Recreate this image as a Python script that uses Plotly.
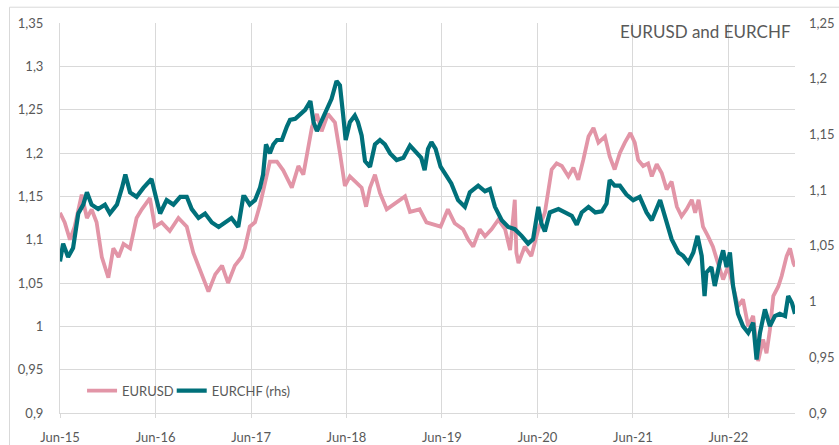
import plotly.graph_objects as go

# EUR/USD (left axis)
usd_dates = [
    "2015-06-01", "2015-06-19", "2015-07-09", "2015-07-27", "2015-08-23", "2015-09-12",
    "2015-09-30", "2015-10-19", "2015-11-08", "2015-12-03", "2015-12-22", "2016-01-11",
    "2016-01-30", "2016-02-24", "2016-03-20", "2016-04-09", "2016-05-10", "2016-05-29",
    "2016-06-24", "2016-07-25", "2016-08-27", "2016-09-28", "2016-10-23", "2016-11-18",
    "2016-12-20", "2017-01-15", "2017-02-10", "2017-03-05", "2017-03-31", "2017-04-26",
    "2017-05-08", "2017-05-27", "2017-06-16", "2017-07-05", "2017-07-24", "2017-08-12",
    "2017-09-08", "2017-10-02", "2017-11-04", "2017-11-29", "2017-12-18", "2018-01-20",
    "2018-02-08", "2018-02-26", "2018-03-22", "2018-04-18", "2018-05-07", "2018-05-26",
    "2018-06-14", "2018-07-09", "2018-07-29", "2018-08-15", "2018-08-30", "2018-09-18",
    "2018-10-07", "2018-11-02", "2018-11-27", "2018-12-22", "2019-01-11", "2019-01-30",
    "2019-03-08", "2019-04-03", "2019-04-22", "2019-05-27", "2019-06-24", "2019-07-20",
    "2019-08-21", "2019-09-10", "2019-09-29", "2019-10-24", "2019-11-13", "2019-12-08",
    "2020-01-03", "2020-01-29", "2020-02-17", "2020-03-06", "2020-03-12", "2020-03-20",
    "2020-04-13", "2020-05-08", "2020-06-04", "2020-06-29", "2020-07-25", "2020-08-13",
    "2020-09-02", "2020-09-27", "2020-10-16", "2020-11-04", "2020-11-23", "2020-12-13",
    "2021-01-01", "2021-01-20", "2021-02-14", "2021-03-04", "2021-03-23", "2021-04-12",
    "2021-05-01", "2021-05-22", "2021-06-08", "2021-06-21", "2021-07-10", "2021-07-29",
    "2021-08-12", "2021-08-31", "2021-09-19", "2021-10-08", "2021-10-27", "2021-11-16",
    "2021-12-04", "2021-12-23", "2022-01-12", "2022-01-25", "2022-02-07", "2022-02-24",
    "2022-03-15", "2022-04-03", "2022-04-22", "2022-05-12", "2022-05-31", "2022-06-19",
    "2022-07-08", "2022-07-27", "2022-08-16", "2022-09-04", "2022-09-23", "2022-10-12",
    "2022-10-25", "2022-11-07", "2022-11-20", "2022-12-09", "2022-12-22", "2023-01-10",
    "2023-01-23", "2023-02-05", "2023-02-11",
]
eurusd = [
    1.131, 1.120, 1.100, 1.115, 1.152, 1.125,
    1.135, 1.120, 1.080, 1.056, 1.090, 1.080,
    1.095, 1.090, 1.125, 1.135, 1.148, 1.115,
    1.120, 1.110, 1.125, 1.115, 1.085, 1.065,
    1.040, 1.060, 1.070, 1.050, 1.070, 1.080,
    1.090, 1.115, 1.120, 1.140, 1.165, 1.190,
    1.190, 1.180, 1.160, 1.185, 1.175, 1.230,
    1.245, 1.225, 1.245, 1.235, 1.200, 1.162,
    1.173, 1.165, 1.160, 1.138, 1.160, 1.175,
    1.154, 1.135, 1.140, 1.145, 1.150, 1.132,
    1.135, 1.120, 1.118, 1.115, 1.135, 1.119,
    1.112, 1.100, 1.092, 1.112, 1.104, 1.112,
    1.123, 1.112, 1.088, 1.146, 1.085, 1.073,
    1.092, 1.081, 1.112, 1.131, 1.181, 1.188,
    1.185, 1.173, 1.183, 1.169, 1.192, 1.219,
    1.229, 1.212, 1.219, 1.196, 1.181, 1.200,
    1.212, 1.223, 1.212, 1.192, 1.185, 1.188,
    1.173, 1.187, 1.177, 1.158, 1.167, 1.138,
    1.127, 1.135, 1.146, 1.131, 1.146, 1.115,
    1.104, 1.092, 1.073, 1.054, 1.069, 1.046,
    1.023, 1.031, 1.000, 1.012, 0.960, 0.985,
    0.969, 0.996, 1.035, 1.046, 1.058, 1.081,
    1.090, 1.073, 1.069,
]

# EUR/CHF (right axis)
chf_dates = [
    "2015-06-01", "2015-06-13", "2015-07-02", "2015-07-21", "2015-08-10", "2015-08-29",
    "2015-09-12", "2015-09-30", "2015-10-25", "2015-11-20", "2015-12-09", "2016-01-05",
    "2016-01-24", "2016-02-06", "2016-02-24", "2016-03-20", "2016-04-15", "2016-05-16",
    "2016-06-05", "2016-06-18", "2016-07-13", "2016-08-08", "2016-09-03", "2016-09-28",
    "2016-10-17", "2016-11-12", "2016-12-07", "2017-01-02", "2017-01-28", "2017-02-21",
    "2017-03-18", "2017-04-13", "2017-05-02", "2017-05-08", "2017-05-27", "2017-06-16",
    "2017-07-05", "2017-07-17", "2017-07-28", "2017-08-12", "2017-08-25", "2017-09-08",
    "2017-09-27", "2017-10-16", "2017-10-28", "2017-11-17", "2017-12-06", "2017-12-25",
    "2018-01-14", "2018-01-26", "2018-02-08", "2018-02-26", "2018-03-16", "2018-04-05",
    "2018-04-24", "2018-05-07", "2018-05-19", "2018-05-29", "2018-06-14", "2018-07-03",
    "2018-07-15", "2018-07-29", "2018-08-11", "2018-08-30", "2018-09-18", "2018-10-07",
    "2018-10-26", "2018-11-15", "2018-12-10", "2019-01-05", "2019-01-30", "2019-02-24",
    "2019-03-14", "2019-03-27", "2019-04-09", "2019-04-22", "2019-05-08", "2019-05-27",
    "2019-06-18", "2019-07-07", "2019-08-02", "2019-08-28", "2019-09-16", "2019-10-18",
    "2019-11-13", "2019-12-02", "2019-12-21", "2020-01-16", "2020-02-10", "2020-03-06",
    "2020-04-01", "2020-04-26", "2020-05-15", "2020-06-04", "2020-06-16", "2020-06-29",
    "2020-07-18", "2020-08-20", "2020-09-14", "2020-10-10", "2020-10-29", "2020-11-17",
    "2020-12-13", "2021-01-08", "2021-02-02", "2021-02-20", "2021-03-04", "2021-03-23",
    "2021-04-12", "2021-05-07", "2021-06-02", "2021-06-27", "2021-07-23", "2021-08-12",
    "2021-09-13", "2021-10-01", "2021-10-27", "2021-11-22", "2021-12-10", "2021-12-30",
    "2022-01-18", "2022-02-03", "2022-02-19", "2022-03-02", "2022-03-09", "2022-03-28",
    "2022-04-10", "2022-04-29", "2022-05-12", "2022-05-25", "2022-06-07", "2022-06-19",
    "2022-07-08", "2022-07-27", "2022-08-16", "2022-09-04", "2022-09-17", "2022-09-30",
    "2022-10-19", "2022-11-07", "2022-11-26", "2022-12-15", "2023-01-04", "2023-01-16",
    "2023-01-30", "2023-02-11",
]
eurchf = [
    1.036, 1.052, 1.040, 1.048, 1.079, 1.087,
    1.098, 1.087, 1.083, 1.087, 1.079, 1.087,
    1.102, 1.114, 1.098, 1.094, 1.102, 1.110,
    1.091, 1.079, 1.091, 1.087, 1.094, 1.094,
    1.083, 1.075, 1.079, 1.071, 1.067, 1.071,
    1.075, 1.067, 1.094, 1.094, 1.087, 1.091,
    1.102, 1.114, 1.141, 1.133, 1.141, 1.145,
    1.145, 1.157, 1.163, 1.164, 1.168, 1.172,
    1.180, 1.161, 1.153, 1.163, 1.172, 1.182,
    1.198, 1.194, 1.168, 1.145, 1.161, 1.167,
    1.161, 1.149, 1.126, 1.121, 1.141, 1.145,
    1.141, 1.133, 1.127, 1.129, 1.140, 1.133,
    1.129, 1.118, 1.137, 1.143, 1.137, 1.121,
    1.112, 1.106, 1.091, 1.085, 1.098, 1.104,
    1.099, 1.101, 1.085, 1.073, 1.067, 1.065,
    1.059, 1.052, 1.056, 1.085, 1.070, 1.063,
    1.080, 1.083, 1.080, 1.077, 1.069, 1.080,
    1.085, 1.080, 1.081, 1.088, 1.109, 1.104,
    1.104, 1.096, 1.091, 1.094, 1.080, 1.073,
    1.091, 1.077, 1.056, 1.044, 1.041, 1.035,
    1.044, 1.059, 1.041, 1.005, 1.026, 1.031,
    1.014, 1.035, 1.046, 1.031, 1.044, 1.014,
    0.989, 0.978, 0.972, 0.981, 0.948, 0.972,
    0.993, 0.978, 0.987, 0.989, 0.987, 1.005,
    0.999, 0.989,
]

# x-axis: one tick every June
tick_dates = ["2015-06-01", "2016-06-01", "2017-06-01", "2018-06-01",
              "2019-06-01", "2020-06-01", "2021-06-01", "2022-06-01"]
tick_labels = ["Jun-15", "Jun-16", "Jun-17", "Jun-18",
               "Jun-19", "Jun-20", "Jun-21", "Jun-22"]

left_ticks = [0.9, 0.95, 1.0, 1.05, 1.1, 1.15, 1.2, 1.25, 1.3, 1.35]
left_labels = ["0,9", "0,95", "1", "1,05", "1,1", "1,15", "1,2", "1,25", "1,3", "1,35"]
right_ticks = [0.9, 0.95, 1.0, 1.05, 1.1, 1.15, 1.2, 1.25]
right_labels = ["0,9", "0,95", "1", "1,05", "1,1", "1,15", "1,2", "1,25"]

PINK = "#E295A7"
TEAL = "#00707A"
GRID = "#D9D9D9"
TEXT = "#595959"
FONT = "Lato, 'Open Sans', sans-serif"

fig = go.Figure()
fig.add_trace(go.Scatter(
    x=usd_dates, y=eurusd, name="EURUSD", mode="lines",
    line=dict(color=PINK, width=3.8), yaxis="y", legend="legend",
))
fig.add_trace(go.Scatter(
    x=chf_dates, y=eurchf, name="EURCHF (rhs)", mode="lines",
    line=dict(color=TEAL, width=4.2), yaxis="y2", legend="legend2",
))

legend_style = dict(
    orientation="h", yanchor="middle", xanchor="left", y=0.057,
    bgcolor="rgba(0,0,0,0)", font=dict(size=13, color=TEXT), itemwidth=30,
)

fig.update_layout(
    width=839, height=445,
    margin=dict(l=60, r=44, t=23, b=32, autoexpand=False),
    paper_bgcolor="white", plot_bgcolor="white",
    font=dict(family=FONT, size=13, color=TEXT),
    showlegend=True,
    legend=dict(x=0.03, **legend_style),
    legend2=dict(x=0.152, **legend_style),
    xaxis=dict(
        type="date", range=["2015-06-01", "2023-02-11"], automargin=False,
        tickmode="array", tickvals=tick_dates, ticktext=tick_labels,
        showgrid=True, gridcolor=GRID, gridwidth=1,
        showline=True, linecolor=GRID, linewidth=1,
        ticks="outside", ticklen=4, tickcolor=GRID,
        ticklabelstandoff=8, zeroline=False,
    ),
    yaxis=dict(
        range=[0.9, 1.35], tickmode="array", tickvals=left_ticks, ticktext=left_labels,
        automargin=False,
        showgrid=True, gridcolor=GRID, gridwidth=1,
        showline=True, linecolor=GRID, linewidth=1,
        ticks="", ticklabelstandoff=13, zeroline=False,
    ),
    yaxis2=dict(
        range=[0.9, 1.25], tickmode="array", tickvals=right_ticks, ticktext=right_labels,
        automargin=False,
        overlaying="y", side="right", showgrid=False, showline=False,
        ticks="", ticklabelstandoff=13, zeroline=False,
    ),
    annotations=[dict(
        text="EURUSD and EURCHF", xref="paper", yref="paper",
        x=0.997, y=0.978, xanchor="right", yanchor="middle",
        showarrow=False, font=dict(family=FONT, size=17, color=TEXT),
    )],
    shapes=[dict(
        type="rect", xref="paper", yref="paper",
        x0=-0.0687, x1=1.07, y0=-0.1, y1=1.0405,
        line=dict(color=GRID, width=1), fillcolor="rgba(0,0,0,0)", layer="below",
    )],
)

fig.write_html("out.html")
